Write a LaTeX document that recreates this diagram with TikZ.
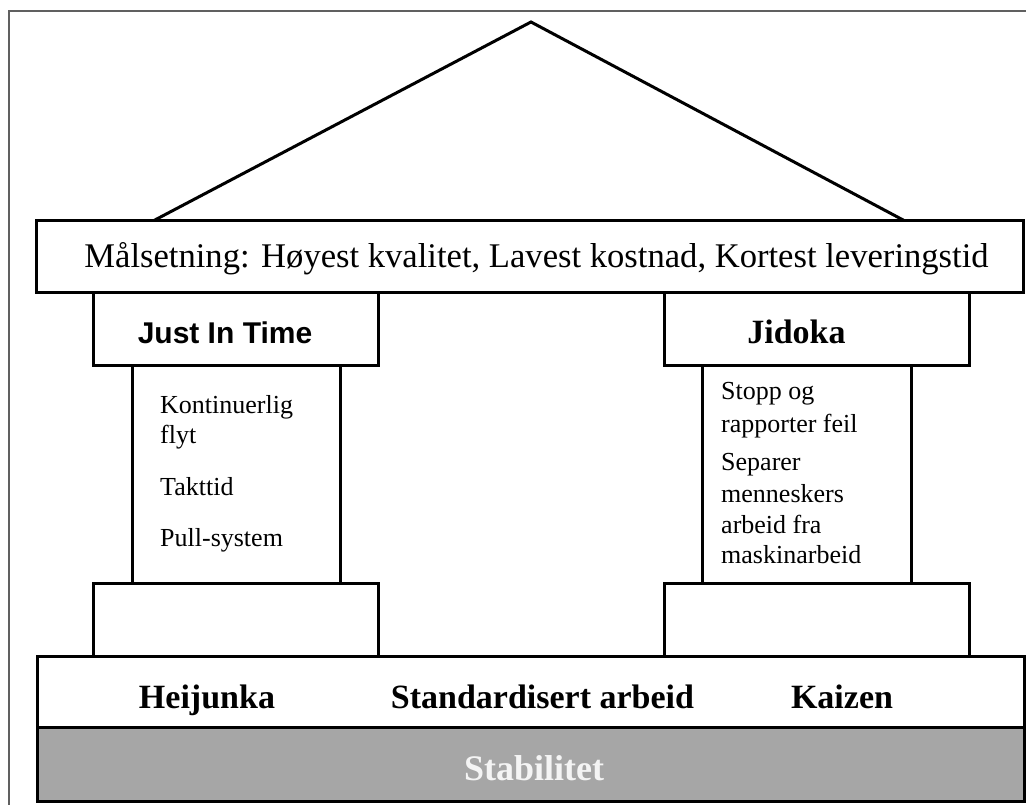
\documentclass[tikz,border=0pt]{standalone}
\usepackage{fontspec}
\setmainfont{Liberation Serif}
\newfontfamily\arialfont{Liberation Sans}
\definecolor{basegray}{HTML}{A6A6A6}
\definecolor{framegray}{HTML}{606060}
\definecolor{lighttext}{HTML}{F4F4F4}
\begin{document}
\begin{tikzpicture}[x=1pt,y=-1pt,
  box/.style={draw=black, line width=3pt, rectangle, inner sep=0pt, fill=white},
  goaltext/.style={anchor=base, inner sep=0pt, font=\fontsize{34.6}{40}\selectfont},
  headsans/.style={anchor=base, inner sep=0pt, font=\arialfont\bfseries\fontsize{30}{36}\selectfont},
  headserif/.style={anchor=base, inner sep=0pt, font=\bfseries\fontsize{34}{40}\selectfont},
  item/.style={anchor=base west, inner sep=0pt, font=\fontsize{26}{30}\selectfont},
  foundtext/.style={anchor=base, inner sep=0pt, font=\bfseries\fontsize{34}{40}\selectfont}]
  \useasboundingbox (0,0) rectangle (1026,805);
  \fill[white] (0,0) rectangle (1026,805);
  % page frame
  \draw[framegray, line width=1.2pt] (9,805) -- (9,11) -- (1026,11);

  % roof
  \coordinate (apex) at (531,22);
  \coordinate (eaveL) at (153,221);
  \coordinate (eaveR) at (905,221);
  \draw[line width=3pt, line join=miter] (eaveL) -- (apex) -- (eaveR);

  % goal beam
  \node[box, minimum width=987pt, minimum height=72pt] (goal) at (529.5,257) {};
  \node[goaltext] (goaltxt) at (536.5,268) {Målsetning: Høyest kvalitet, Lavest kostnad, Kortest leveringstid};

  % left pillar: Just In Time
  \node[box, minimum width=208pt, minimum height=218pt] (jitcol) at (236,474) {};
  \node[box, minimum width=285pt, minimum height=72pt] (jithead) at (235.5,329) {};
  \node[box, minimum width=285pt, minimum height=73pt] (jitbase) at (235.5,619.5) {};
  \node[headsans] (jittxt) at (225,343) {Just In Time};
  \node[item] (jit1a) at (160,413) {Kontinuerlig};
  \node[item] (jit1b) at (160,443) {flyt};
  \node[item] (jit2) at (160,495) {Takttid};
  \node[item] (jit3) at (160,546) {Pull-system};

  % right pillar: Jidoka
  \node[box, minimum width=209pt, minimum height=218pt] (jidcol) at (806.5,474) {};
  \node[box, minimum width=305pt, minimum height=72pt] (jidhead) at (816.5,329) {};
  \node[box, minimum width=305pt, minimum height=73pt] (jidbase) at (816.5,619.5) {};
  \node[headserif] (jidtxt) at (796.5,343) {Jidoka};
  \node[item] (jid1a) at (721,399) {Stopp og};
  \node[item] (jid1b) at (721,432) {rapporter feil};
  \node[item] (jid2a) at (721,470) {Separer};
  \node[item] (jid2b) at (721,502) {menneskers};
  \node[item] (jid2c) at (721,533) {arbeid fra};
  \node[item] (jid2d) at (721,563) {maskinarbeid};

  % foundation
  \node[box, minimum width=987pt, minimum height=71pt] (found) at (530.5,691.5) {};
  \node[box, fill=basegray, minimum width=987pt, minimum height=74pt] (stab) at (530.5,764) {};
  \node[foundtext] (heij) at (207,708) {Heijunka};
  \node[foundtext] (std) at (542.5,708) {Standardisert arbeid};
  \node[foundtext] (kaiz) at (842,708) {Kaizen};
  \node[foundtext, text=lighttext, font=\bfseries\fontsize{36}{40}\selectfont] (stabtxt) at (534,780) {Stabilitet};
\end{tikzpicture}
\end{document}
